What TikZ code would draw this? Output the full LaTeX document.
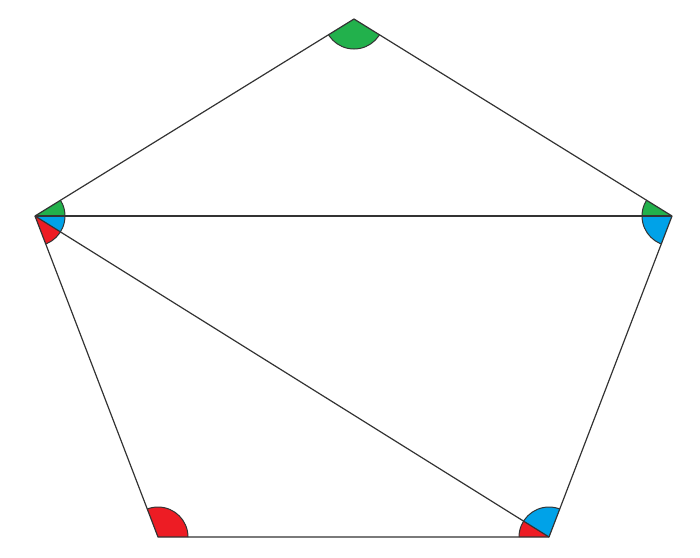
\documentclass[tikz,border=0pt]{standalone}
\definecolor{angleGreen}{HTML}{22B14C}
\definecolor{angleBlue}{HTML}{00A2E8}
\definecolor{angleRed}{HTML}{ED1C24}
\definecolor{lineGray}{HTML}{333333}
\tikzstyle{border} = [draw=lineGray, line width=1.2pt, line join=round]
\tikzstyle{wedge} = [draw=lineGray, line width=1pt]
\begin{document}
\begin{tikzpicture}[x=1pt, y=-1pt]
    \useasboundingbox (0,0) rectangle (700,557);

    % Vertices.
    \coordinate (top) at (354,19);
    \coordinate (left) at (35,216);
    \coordinate (right) at (672,216);
    \coordinate (botleft) at (158,537);
    \coordinate (botright) at (549,537);

    % Angles.
    \foreach \a/\b/\c/\col in {top/left/right/angleGreen, left/right/botright/angleBlue, left/botright/botleft/angleRed} {
        \begin{scope}
            \clip (\a) -- (\b) -- (\c) -- cycle;
            \foreach \v in {\a, \b, \c} {
                \filldraw [wedge, fill=\col] (\v) circle [radius=30pt];
            }
        \end{scope}
    }

    % Sides and diagonals.
    \draw [border] (top) -- (right) -- (botright) -- (botleft) -- (left) -- cycle;
    \draw [border] (left) -- (right);
    \draw [border] (left) -- (botright);
\end{tikzpicture}
\end{document}
